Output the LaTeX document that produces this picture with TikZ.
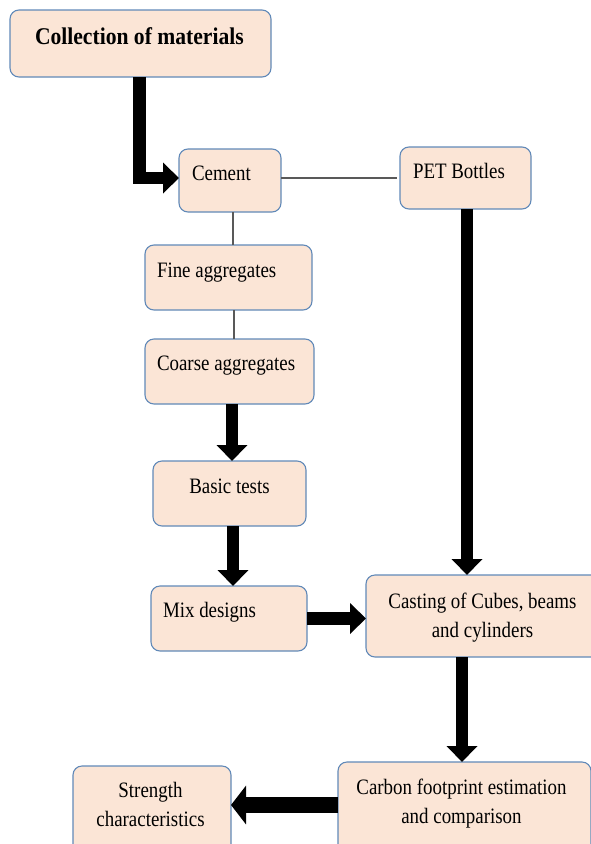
\documentclass[tikz,border=0pt]{standalone}
\usepackage{fontspec}
\setmainfont{Liberation Serif}[FakeStretch=0.86]
\usetikzlibrary{arrows.meta}
\definecolor{boxfill}{HTML}{FBE5D6}
\definecolor{boxline}{HTML}{6189B8}
\definecolor{thinline}{HTML}{595959}
\begin{document}
\begin{tikzpicture}[x=1pt,y=-1pt,
  box/.style={draw=boxline, line width=1.1pt, fill=boxfill, rounded corners=9pt, inner sep=0pt, outer sep=0pt},
  txt/.style={inner sep=0pt, outer sep=0pt, font=\fontsize{22}{29}\selectfont},
  bigarrow/.style={line width=12.5pt, -{Triangle[width=30pt,length=16pt]}},
  thinconn/.style={draw=thinline, line width=1.2pt}]
\useasboundingbox (0,0) rectangle (591,844);
\clip (0,0) rectangle (591,844);
% boxes
\node[box, minimum width=261pt, minimum height=67pt] (coll) at (140.5,43.5) {};
\node[box, minimum width=102pt, minimum height=63pt] (cement) at (230,180.5) {};
\node[box, minimum width=131pt, minimum height=62pt] (pet) at (465.5,178) {};
\node[box, minimum width=167pt, minimum height=65pt] (fine) at (228.5,277.5) {};
\node[box, minimum width=169pt, minimum height=65pt] (coarse) at (229.5,371.5) {};
\node[box, minimum width=153pt, minimum height=65pt] (basic) at (229.5,493.5) {};
\node[box, minimum width=156pt, minimum height=65pt] (mix) at (229,618.5) {};
\node[box, minimum width=244pt, minimum height=82pt] (cast) at (488,616) {};
\node[box, minimum width=253pt, minimum height=108pt] (carbon) at (464.5,816) {};
\node[box, minimum width=158pt, minimum height=104pt] (strength) at (152,818) {};
% texts
\node[txt, anchor=base west, font=\fontsize{24}{29}\bfseries\addfontfeature{FakeStretch=0.9}] (tcoll) at (35,44) {Collection of materials};
\node[txt, anchor=base west] (tcement) at (192,180) {Cement};
\node[txt, anchor=base west] (tpet) at (413,178) {PET Bottles};
\node[txt, anchor=base west] (tfine) at (157,277) {Fine aggregates};
\node[txt, anchor=base west] (tcoarse) at (157,370) {Coarse aggregates};
\node[txt, anchor=base] (tbasic) at (229.5,493) {Basic tests};
\node[txt, anchor=base west] (tmix) at (163,617) {Mix designs};
\node[txt, anchor=base, align=center] (tcast) at (482.5,637) {Casting of Cubes, beams\\and cylinders};
\node[txt, anchor=base, align=center] (tcarbon) at (461.5,823) {Carbon footprint estimation\\and comparison};
\node[txt, anchor=base, align=center] (tstrength) at (150.5,826) {Strength\\characteristics};
% helper coordinates
\coordinate (x1) at (139.5,0);
\coordinate (x2) at (232,0);
\coordinate (x3) at (233,0);
\coordinate (x4) at (234,0);
\coordinate (x5) at (467,0);
\coordinate (x6) at (462,0);
\coordinate (y1) at (0,178);
\coordinate (y2) at (0,618.5);
\coordinate (y3) at (0,805);
% thin connectors
\draw[thinconn] (cement.east |- y1) -- ([xshift=-3pt]pet.west |- y1);
\draw[thinconn] (cement.south -| x3) -- (fine.north -| x3);
\draw[thinconn] (fine.south -| x4) -- (coarse.north -| x4);
% thick arrows
\draw[bigarrow, line join=miter] (coll.south -| x1) |- (cement.west |- y1);
\draw[bigarrow] (coarse.south -| x2) -- (basic.north -| x2);
\draw[bigarrow] (basic.south -| x3) -- (mix.north -| x3);
\draw[bigarrow] (pet.south -| x5) -- (cast.north -| x5);
\draw[bigarrow] (mix.east |- y2) -- (cast.west |- y2);
\draw[bigarrow] (cast.south -| x6) -- (carbon.north -| x6);
\draw[bigarrow, line width=16pt, -{Triangle[width=38pt,length=15pt]}] (carbon.west |- y3) -- (strength.east |- y3);
\end{tikzpicture}
\end{document}
